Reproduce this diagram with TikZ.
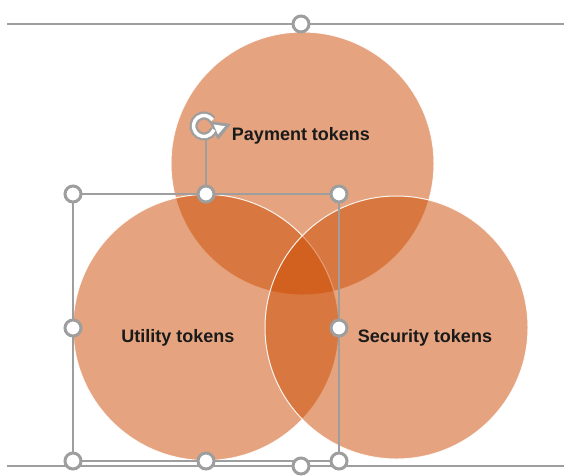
\documentclass[tikz,border=0pt]{standalone}
\usepackage{fontspec}
\setmainfont{Liberation Sans}
\usetikzlibrary{arrows.meta}
\definecolor{vennorange}{RGB}{205,75,0}
\definecolor{handlegray}{RGB}{158,158,158}
\definecolor{txt}{RGB}{26,26,26}
\begin{document}
\begin{tikzpicture}[x=1pt,y=-1pt,
  venn/.style={fill=vennorange,fill opacity=0.5,draw=white,draw opacity=0.9,line width=1pt},
  lbl/.style={font=\fontsize{18}{21}\selectfont\bfseries,text=txt,inner sep=0pt},
  handle/.style={circle,draw=handlegray,fill=white,line width=3pt,minimum size=16pt,inner sep=0pt},
  selline/.style={draw=handlegray,line width=1.4pt}]
\useasboundingbox (0,0) rectangle (564,475);
\fill[white] (0,0) rectangle (564,475);
% circles
\path[venn] (302.5,163.5) circle (131.5);
\path[venn] (206,327.5) circle (133);
\path[venn] (396.5,327.5) circle (131.5);
% outer group lines
\coordinate (tl) at (7,24);
\coordinate (tr) at (564,24);
\coordinate (bl) at (7,466);
\coordinate (br) at (564,466);
\draw[selline] (tl) -- (tr);
\draw[selline] (bl) -- (br);
% selection box
\coordinate (rot) at (204,126);
\coordinate (rotfoot) at (206,194);
\draw[selline] (73,194) rectangle (339,461);
\draw[selline] (206,138) -- (rotfoot);
% rotation icon
\draw[handlegray,line width=8pt] (rot) ++(-35:10.5) arc[start angle=-35,end angle=-340,radius=10.5];
\fill[handlegray,rounded corners=1pt] (209,121) -- (231,124) -- (218,140) -- cycle;
\draw[white,line width=3.5pt] (rot) ++(-35:10.5) arc[start angle=-35,end angle=-340,radius=10.5];
\fill[white] (213.5,124.5) -- (225,126.2) -- (218,134.5) -- cycle;
% handles
\node[handle] (hT) at (301,24) {};
\node[handle] (hB) at (301,466) {};
\node[handle] (h1) at (73,194) {};
\node[handle] (h2) at (206,194) {};
\node[handle] (h3) at (339,194) {};
\node[handle] (h4) at (73,328) {};
\node[handle] (h5) at (339,328) {};
\node[handle] (h6) at (73,461) {};
\node[handle] (h7) at (206,461) {};
\node[handle] (h8) at (339,461) {};
% labels
\node[lbl] (pay) at (301,136) {Payment tokens};
\node[lbl] (util) at (178,338) {Utility tokens};
\node[lbl] (sec) at (425,338) {Security tokens};
\end{tikzpicture}
\end{document}
